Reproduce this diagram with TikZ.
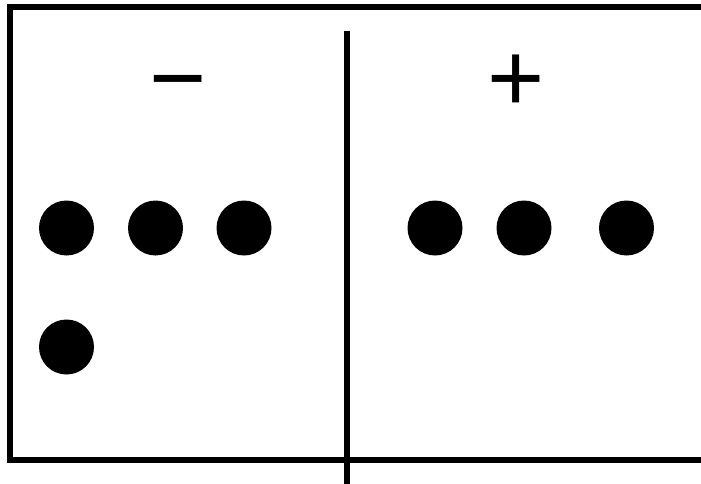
\documentclass[tikz,border=0pt]{standalone}
\usepackage{fontspec}
\setmainfont{Liberation Sans}
\begin{document}
\begin{tikzpicture}[x=1pt,y=-1pt,
  frameline/.style={line width=6pt,black},
  ball/.style={circle,fill=black,minimum size=55pt,inner sep=0pt},
  sign/.style={anchor=base,inner sep=0pt,font=\fontsize{98}{98}\selectfont}]
\useasboundingbox (0,0) rectangle (701,484);
% frame
\coordinate (tl) at (7,7);
\coordinate (tr) at (701,7);
\coordinate (ltop) at (10,4);
\coordinate (lbot) at (10,463);
\coordinate (bl) at (7,460);
\coordinate (br) at (701,460);
\coordinate (vtop) at (347,31);
\coordinate (vbot) at (347,484);
\draw[frameline] (tl) -- (tr);
\draw[frameline] (ltop) -- (lbot);
\draw[frameline] (bl) -- (br);
\draw[frameline] (vtop) -- (vbot);
% signs
\node[sign] (minus) at (178,112) {−};
\node[sign] (plus) at (516,112) {+};
% balls left
\node[ball] (l1) at (66.5,228) {};
\node[ball] (l2) at (155.5,228) {};
\node[ball] (l3) at (244,228) {};
\node[ball] (l4) at (66.5,347) {};
% balls right
\node[ball] (r1) at (435,228) {};
\node[ball] (r2) at (524,228) {};
\node[ball] (r3) at (626.5,228) {};
\end{tikzpicture}
\end{document}
